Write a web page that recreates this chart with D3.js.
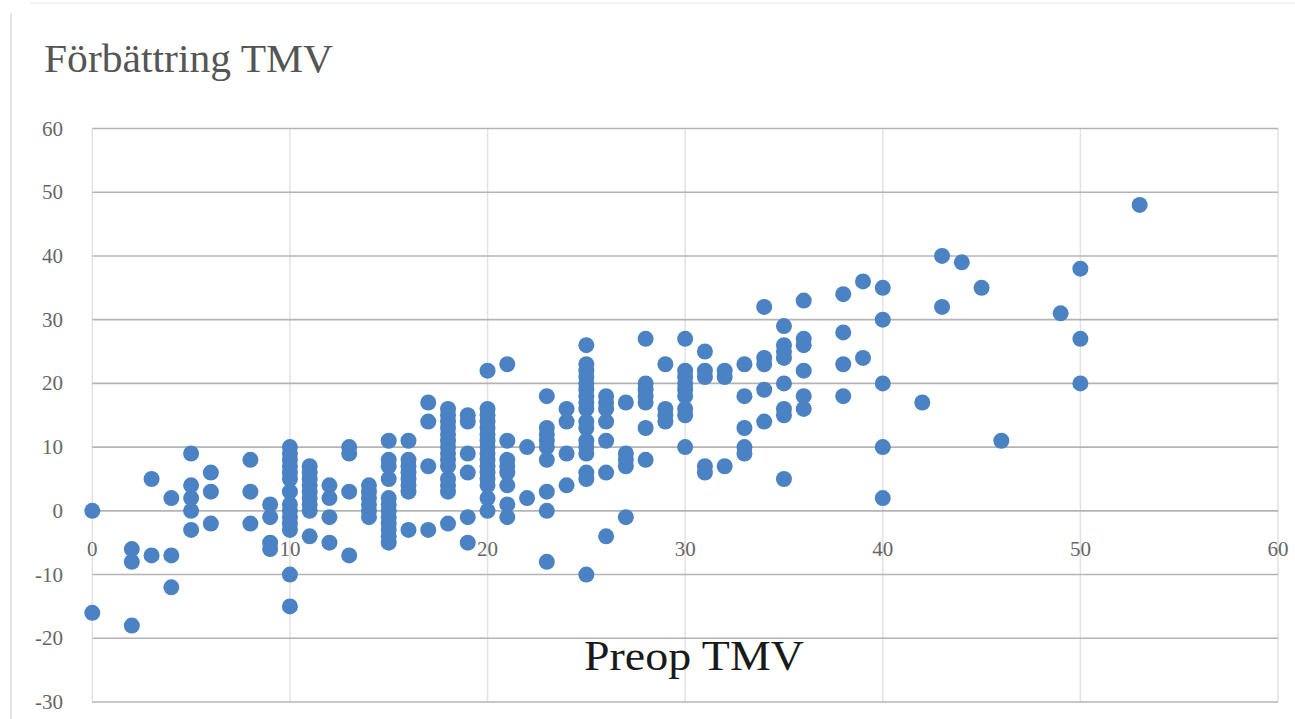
<!DOCTYPE html>
<html>
<head>
<meta charset="utf-8">
<script src="https://cdn.jsdelivr.net/npm/d3@7"></script>
<style>
  html, body { margin: 0; padding: 0; background: #fff; }
  svg { display: block; }
</style>
</head>
<body>
<svg id="chart" width="1295" height="719"></svg>
<script>
// Preop TMV values (x) and improvement values (y) grouped by x
const preopTMV = [0, 2, 3, 4, 5, 6, 8, 9, 10, 11, 12, 13, 14, 15, 16, 17, 18, 19, 20, 21, 22, 23, 24, 25, 26, 27, 28, 29, 30, 31, 32, 33, 34, 35, 36, 38, 39, 40, 42, 43, 44, 45, 46, 49, 50, 53];
const forbattring = [
  [0, -16],
  [-6, -8, -18],
  [5, -7],
  [2, -7, -12],
  [9, 4, 2, 0, -3],
  [6, 3, -2],
  [8, 3, -2],
  [1, -1, -5, -6],
  [10, 9, 8, 7, 6, 5, 3, 1, 0, -1, -2, -3, -10, -15],
  [7, 6, 5, 4, 3, 2, 1, 0, -4],
  [4, 2, -1, -5],
  [10, 9, 3, -7],
  [4, 3, 2, 1, 0, -1],
  [11, 8, 7, 5, 2, 1, 0, -1, -2, -3, -4, -5],
  [11, 8, 7, 6, 5, 4, 3, -3],
  [17, 14, 7, -3],
  [16, 15, 14, 13, 12, 11, 10, 9, 8, 7, 5, 4, 3, -2],
  [15, 14, 9, 6, -1, -5],
  [22, 16, 15, 14, 13, 12, 11, 10, 9, 8, 7, 6, 5, 4, 2, 0],
  [23, 11, 8, 7, 6, 4, 1, -1],
  [10, 2],
  [18, 13, 12, 11, 10, 8, 3, 0, -8],
  [16, 14, 9, 4],
  [26, 23, 22, 21, 20, 19, 18, 17, 16, 14, 13, 11, 10, 9, 6, 5, -10],
  [18, 17, 16, 14, 11, 6, -4],
  [17, 9, 8, 7, -1],
  [27, 20, 19, 18, 17, 13, 8],
  [23, 16, 15, 14],
  [27, 22, 21, 20, 19, 18, 16, 15, 10],
  [25, 22, 21, 7, 6],
  [22, 21, 7],
  [23, 18, 13, 10, 9],
  [32, 24, 23, 19, 14],
  [29, 26, 25, 24, 20, 16, 15, 5],
  [33, 27, 26, 22, 18, 16],
  [34, 28, 23, 18],
  [36, 24],
  [35, 30, 20, 10, 2],
  [17],
  [40, 32],
  [39],
  [35],
  [11],
  [31],
  [38, 27, 20],
  [48]
];
const xTicks = [0, 10, 20, 30, 40, 50, 60];
const yTicks = [-30, -20, -10, 0, 10, 20, 30, 40, 50, 60];
const chartTitle = "Förbättring TMV";
const xTitle = "Preop TMV";

(function () {
  const points = [];
  preopTMV.forEach((xv, i) => forbattring[i].forEach(yv => points.push({ x: xv, y: yv })));

  const svg = d3.select("#chart");
  const pLeft = 92.3, pRight = 1278, pTop = 128.5, pBottom = 702;
  const x = d3.scaleLinear().domain([0, 60]).range([pLeft, pRight]);
  const y = d3.scaleLinear().domain([-30, 60]).range([pBottom, pTop]);

  // outer frame
  svg.append("line").attr("x1", 11).attr("x2", 11).attr("y1", 13).attr("y2", 719)
    .attr("stroke", "#dcdcdc").attr("stroke-width", 1.5);
  svg.append("line").attr("x1", 30).attr("x2", 1295).attr("y1", 3).attr("y2", 3)
    .attr("stroke", "#f0f0f0").attr("stroke-width", 1.5);

  // vertical gridlines (light)
  svg.append("g").selectAll("line").data(xTicks).join("line")
    .attr("x1", d => x(d)).attr("x2", d => x(d))
    .attr("y1", pTop).attr("y2", pBottom)
    .attr("stroke", "#e2e2e2").attr("stroke-width", 1.5);

  // horizontal gridlines (darker)
  svg.append("g").selectAll("line").data(yTicks).join("line")
    .attr("x1", pLeft).attr("x2", pRight)
    .attr("y1", d => y(d)).attr("y2", d => y(d))
    .attr("stroke", "#b4b4b4").attr("stroke-width", 1.6);

  // y tick labels
  svg.append("g").selectAll("text").data(yTicks).join("text")
    .attr("x", 63).attr("y", d => y(d) + 7)
    .attr("text-anchor", "end")
    .attr("font-family", "'Liberation Serif', 'DejaVu Serif', serif")
    .attr("font-size", 21).attr("fill", "#666")
    .text(d => d);

  // x tick labels (inside plot, below zero line)
  svg.append("g").selectAll("text").data(xTicks).join("text")
    .attr("x", d => x(d)).attr("y", y(0) + 45)
    .attr("text-anchor", "middle")
    .attr("font-family", "'Liberation Serif', 'DejaVu Serif', serif")
    .attr("font-size", 21).attr("fill", "#666")
    .text(d => d);

  // points
  svg.append("g").selectAll("circle").data(points).join("circle")
    .attr("cx", d => x(d.x)).attr("cy", d => y(d.y))
    .attr("r", 8).attr("fill", "#4a82c4");

  // title
  svg.append("text").attr("x", 44).attr("y", 72)
    .attr("font-family", "'Liberation Serif', 'DejaVu Serif', serif")
    .attr("font-size", 39).attr("fill", "#555")
    .attr("textLength", 289).attr("lengthAdjust", "spacingAndGlyphs")
    .text(chartTitle);

  // x axis title
  svg.append("text").attr("x", 584).attr("y", 670)
    .attr("font-family", "'Liberation Serif', 'DejaVu Serif', serif")
    .attr("font-size", 43).attr("fill", "#1a1a1a")
    .attr("textLength", 220).attr("lengthAdjust", "spacingAndGlyphs")
    .text(xTitle);
})();
</script>
</body>
</html>
